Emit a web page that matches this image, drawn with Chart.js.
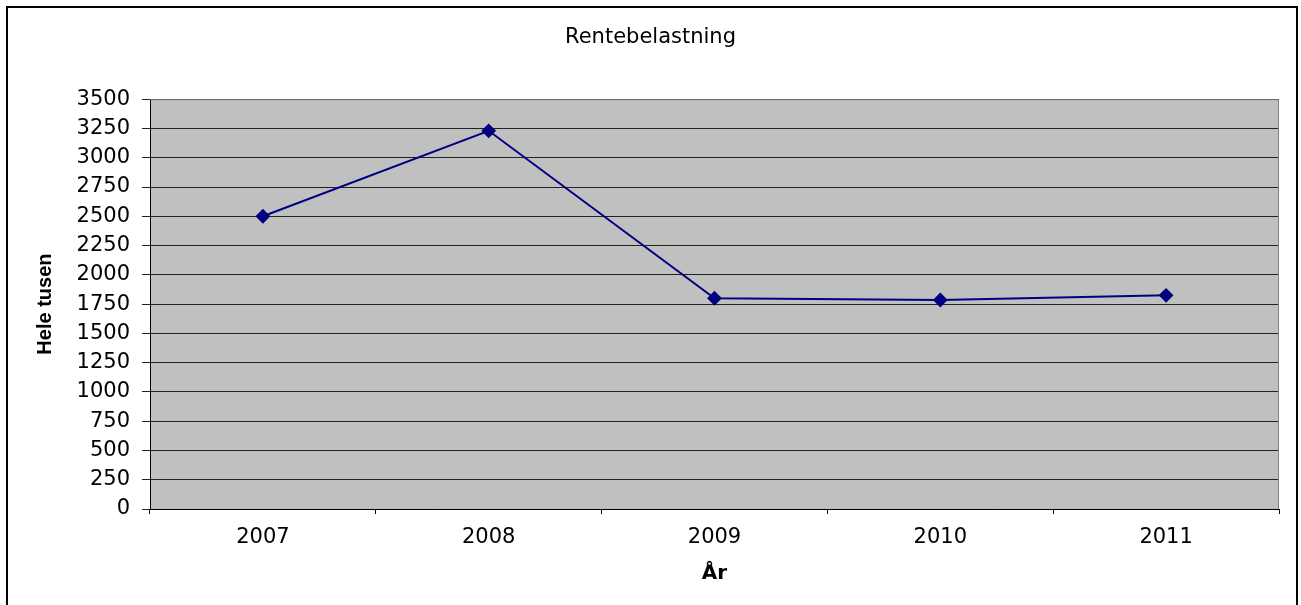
<!DOCTYPE html>
<html>
<head>
<meta charset="utf-8">
<script src="https://cdn.jsdelivr.net/npm/chart.js"></script>
<style>
  body { margin: 0; background: #fff; overflow: hidden; }
  #frame { position: absolute; left: 6px; top: 6px; width: 1288px; height: 620px; border: 2px solid #000; }
  #wrap { position: absolute; left: 0; top: 0; width: 1301px; height: 605px; }
</style>
</head>
<body>
<div id="frame"></div>
<div id="wrap"><canvas id="chart"></canvas></div>
<script>
const years = ['2007', '2008', '2009', '2010', '2011'];
const renteValues = [2500, 3230, 1800, 1785, 1825];
const yMin = 0;
const yMax = 3500;
const yStep = 250;

const plotBackground = {
    id: 'plotBackground',
    beforeDraw(chart) {
        const {ctx, chartArea} = chart;
        ctx.save();
        ctx.fillStyle = '#C0C0C0';
        ctx.fillRect(chartArea.left, chartArea.top, chartArea.right - chartArea.left, chartArea.bottom - chartArea.top);
        ctx.restore();
    },
    beforeDatasetsDraw(chart) {
        const {ctx, chartArea} = chart;
        ctx.save();
        ctx.strokeStyle = '#808080';
        ctx.lineWidth = 1;
        ctx.beginPath();
        ctx.moveTo(chartArea.left, chartArea.top + 0.5);
        ctx.lineTo(chartArea.right - 0.5, chartArea.top + 0.5);
        ctx.lineTo(chartArea.right - 0.5, chartArea.bottom);
        ctx.stroke();
        ctx.restore();
    }
};

document.addEventListener('DOMContentLoaded', function() {
    const canvas = document.getElementById('chart');

    new Chart(canvas, {
        type: 'line',
        data: {
            labels: years,
            datasets: [{
                label: 'Rentebelastning',
                data: renteValues,
                borderColor: '#000080',
                backgroundColor: '#000080',
                borderWidth: 2,
                pointStyle: 'rectRot',
                pointRadius: 6,
                pointBackgroundColor: '#000080',
                pointBorderColor: '#000080',
                tension: 0
            }]
        },
        options: {
            responsive: true,
            maintainAspectRatio: false,
            animation: false,
            layout: {
                padding: 0
            },
            scales: {
                x: {
                    offset: true,
                    grid: {
                        offset: true,
                        drawOnChartArea: false,
                        drawTicks: true,
                        tickLength: 5,
                        color: '#000'
                    },
                    border: { display: true, color: '#000', width: 1 },
                    ticks: {
                        color: '#000',
                        padding: 11,
                        maxRotation: 0,
                        font: { family: 'DejaVu Sans', size: 21 }
                    },
                    title: {
                        display: true,
                        text: 'År',
                        color: '#000',
                        padding: { top: 0, bottom: 19 },
                        font: { family: 'DejaVu Sans', size: 20, weight: 'bold' }
                    },
                    afterFit: function(scale) {
                        scale.height = 96;
                    }
                },
                y: {
                    min: yMin,
                    max: yMax,
                    grid: {
                        color: '#222',
                        drawTicks: true,
                        tickLength: 8
                    },
                    border: { display: true, color: '#000', width: 1 },
                    ticks: {
                        stepSize: yStep,
                        color: '#000',
                        padding: 12,
                        font: { family: 'DejaVu Sans', size: 21 },
                        callback: function(value) {
                            return String(value);
                        }
                    },
                    title: {
                        display: true,
                        text: 'Hele tusen',
                        color: '#000',
                        padding: { top: 33, bottom: 0 },
                        font: { family: 'Liberation Sans', size: 20, weight: 'bold' }
                    },
                    afterFit: function(scale) {
                        scale.width = 150;
                    }
                },
                yRight: {
                    position: 'right',
                    display: true,
                    min: yMin,
                    max: yMax,
                    grid: { drawOnChartArea: false, drawTicks: false },
                    border: { display: false },
                    ticks: { display: false },
                    afterFit: function(scale) {
                        scale.width = 22;
                    }
                }
            },
            plugins: {
                legend: { display: false },
                tooltip: { enabled: false },
                title: {
                    display: true,
                    text: 'Rentebelastning',
                    color: '#000',
                    font: { family: 'DejaVu Sans', size: 21, weight: 'normal' },
                    padding: { top: 25, bottom: 49 }
                }
            }
        },
        plugins: [plotBackground]
    });
});
</script>
</body>
</html>
